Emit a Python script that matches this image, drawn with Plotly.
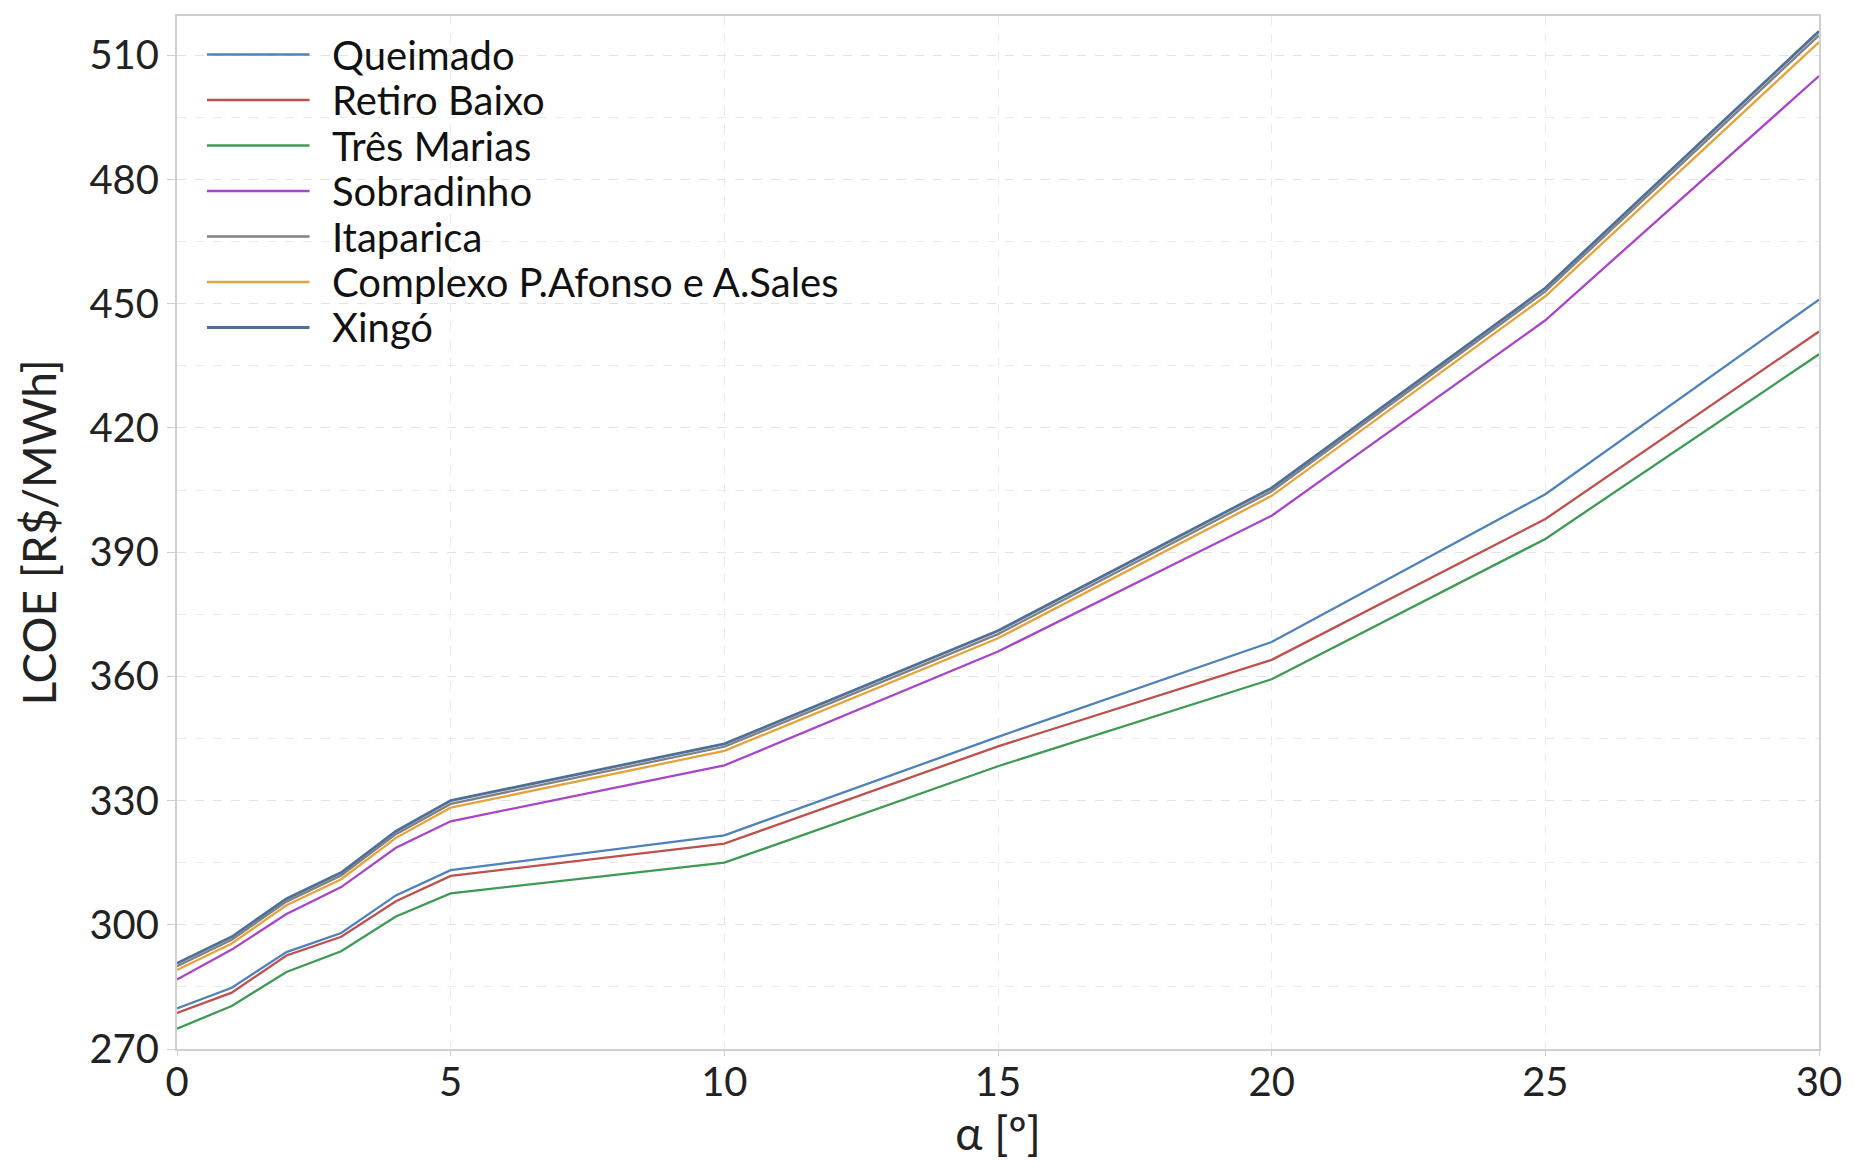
import plotly.graph_objects as go

alpha = [0, 1, 2, 3, 4, 5, 10, 15, 20, 25, 30]

names = ["Queimado", "Retiro Baixo", "Três Marias", "Sobradinho",
         "Itaparica", "Complexo P.Afonso e A.Sales", "Xingó"]

queimado = [279.8, 284.8, 293.4, 298.0, 307.1, 313.2, 321.6, 345.4, 368.3, 404.0, 451.0]
retiro_baixo = [278.7, 283.6, 292.6, 297.1, 305.7, 311.8, 319.6, 343.1, 364.0, 398.0, 443.3]
tres_marias = [274.9, 280.4, 288.6, 293.6, 302.0, 307.6, 315.0, 338.3, 359.3, 393.2, 437.8]
sobradinho = [286.8, 294.0, 302.6, 309.1, 318.6, 325.0, 338.5, 366.0, 398.8, 446.0, 505.0]
itaparica = [290.0, 296.4, 305.6, 311.9, 321.9, 329.2, 343.0, 370.2, 404.7, 453.0, 514.8]
complexo = [289.1, 295.5, 304.7, 311.0, 321.0, 328.3, 342.0, 369.2, 403.6, 451.8, 513.2]
xingo = [290.7, 297.1, 306.3, 312.6, 322.6, 330.0, 343.7, 371.0, 405.5, 453.8, 515.8]

series = [queimado, retiro_baixo, tres_marias, sobradinho, itaparica, complexo, xingo]
colors = ["#4f81bd", "#c0504d", "#3f9a55", "#a845c8", "#808080", "#e6a23c", "#4e6f98"]
widths = [2.3, 2.3, 2.3, 2.3, 2.3, 2.3, 2.8]

y_ticks = [270, 300, 330, 360, 390, 420, 450, 480, 510]
x_ticks = [0, 5, 10, 15, 20, 25, 30]

W, H = 1854, 1169
ML, MR, MT, MB = 177, 29, 16, 120
PW, PH = W - ML - MR, H - MT - MB

def px_x(px):
    return (px - ML) / PW

def px_y(py):
    return 1 - (py - MT) / PH

font_family = "Lato, Open Sans, sans-serif"

fig = go.Figure()
for n, s, c, w in zip(names, series, colors, widths):
    fig.add_trace(go.Scatter(x=alpha, y=s, name=n, mode="lines",
                             line=dict(color=c, width=w), showlegend=False))

# legend drawn in paper space (sample line + label per series)
shapes, annotations = [], []
for i, (n, c, w) in enumerate(zip(names, colors, widths)):
    yy = px_y(54.5 + 45.5 * i)
    shapes.append(dict(type="line", xref="paper", yref="paper",
                       x0=px_x(207), x1=px_x(310), y0=yy, y1=yy,
                       line=dict(color=c, width=w)))
    annotations.append(dict(xref="paper", yref="paper", x=px_x(331), y=yy,
                            text=n, showarrow=False, xanchor="left", yanchor="middle",
                            font=dict(family=font_family, size=40, color="#111111")))

fig.update_layout(
    width=W, height=H,
    margin=dict(l=ML, r=MR, t=MT, b=MB),
    paper_bgcolor="white", plot_bgcolor="white",
    font=dict(family=font_family, size=40, color="#222222"),
    shapes=shapes, annotations=annotations,
    showlegend=False,
)

fig.update_xaxes(
    range=[0, 30], tickvals=x_ticks, ticktext=[str(v) for v in x_ticks],
    showgrid=True, gridcolor="#eaeaea", griddash="dash", gridwidth=1,
    showline=True, linecolor="#cfcfcf", linewidth=2, mirror=True,
    ticks="outside", ticklen=5, tickcolor="#cfcfcf", ticklabelstandoff=-8,
    tickfont=dict(size=40, color="#222222"),
    title=dict(text="α [º]", font=dict(size=46, color="#222222"), standoff=14),
    zeroline=False,
)
fig.update_yaxes(
    range=[270, 519.5], tickvals=y_ticks, ticktext=[str(v) for v in y_ticks],
    showgrid=True, gridcolor="#e3e3e3", griddash="dash", gridwidth=1,
    minor=dict(dtick=15, tick0=270, showgrid=True, gridcolor="#ececec", griddash="dash"),
    showline=True, linecolor="#cfcfcf", linewidth=2, mirror=True,
    ticks="outside", ticklen=8, tickcolor="#cfcfcf",
    tickfont=dict(size=40, color="#222222"),
    title=dict(text="LCOE [R$/MWh]", font=dict(size=46, color="#222222"), standoff=18),
    zeroline=False,
)

fig.write_html("out.html", config={"displayModeBar": False},
               post_script="document.body.style.margin='0px';document.body.style.overflow='hidden';")
